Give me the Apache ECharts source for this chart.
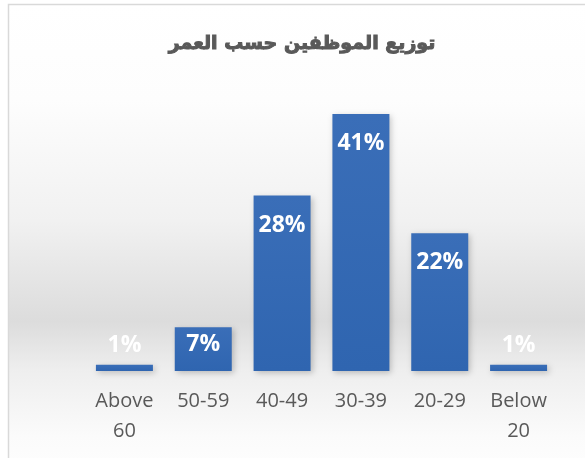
<!DOCTYPE html>
<html>
<head>
<meta charset="utf-8">
<script src="https://cdn.jsdelivr.net/npm/echarts@6/dist/echarts.min.js"></script>
<style>
  html, body { margin: 0; padding: 0; background: #fff; }
  #ageChart { width: 585px; height: 458px; }
</style>
</head>
<body>
<div id="ageChart"></div>
<script>
// 데이터
var chartTitle = "توزيع الموظفين حسب العمر";
var ageGroups = ["Above\n60", "50-59", "40-49", "30-39", "20-29", "Below\n20"];
var sharePct = [1, 7, 28, 41, 22, 1];

var ageChart = echarts.init(document.getElementById("ageChart"));

// 막대 높이에 따라 라벨 위치 바꿈 (작은 막대는 위로)
function labelFor(v) {
  if (v >= 10) return { position: "insideTop", distance: 18 };
  if (v >= 5) return { position: "insideTop", distance: 6 };
  return { position: "top", distance: 8 };
}

var barData = sharePct.map(function (v) {
  return { value: v, label: labelFor(v) };
});

var ageOption = {
  animation: false,
  graphic: [
    {
      type: "rect",
      silent: true,
      z: -10,
      shape: { x: 8.5, y: 4.5, width: 620, height: 480 },
      style: {
        stroke: "#d9d9d9",
        lineWidth: 1.5,
        fill: {
          type: "linear",
          x: 0, y: 0, x2: 0, y2: 1,
          global: false,
          colorStops: [
            { offset: 0, color: "#ffffff" },
            { offset: 0.2, color: "#fdfdfd" },
            { offset: 0.45, color: "#f1f1f1" },
            { offset: 0.66, color: "#dcdcdc" },
            { offset: 0.76, color: "#eeeeee" },
            { offset: 0.9, color: "#fbfbfb" },
            { offset: 1, color: "#ffffff" },
          ],
        },
      },
    },
  ],
  title: {
    text: chartTitle,
    left: 297,
    top: 30,
    textAlign: "center",
    textStyle: {
      fontFamily: "DejaVu Sans",
      fontSize: 19,
      fontWeight: "bold",
      color: "#595959",
      textBorderColor: "#595959",
      textBorderWidth: 1,
    },
  },
  grid: {
    left: 85,
    right: 27,
    top: 89,
    bottom: 87,
  },
  xAxis: {
    type: "category",
    data: ageGroups,
    axisLine: { show: false },
    axisTick: { show: false },
    axisLabel: {
      interval: 0,
      margin: 15,
      fontFamily: "Open Sans",
      fontSize: 20,
      lineHeight: 30,
      color: "#595959",
    },
  },
  yAxis: {
    type: "value",
    min: 0,
    max: 45,
    show: false,
    splitLine: { show: false },
  },
  series: [
    {
      type: "bar",
      data: barData,
      barWidth: 57,
      itemStyle: {
        color: {
          type: "linear",
          x: 0, y: 0, x2: 0, y2: 1,
          colorStops: [
            { offset: 0, color: "#3a6eb8" },
            { offset: 1, color: "#2f65b0" },
          ],
        },
        shadowBlur: 6,
        shadowColor: "rgba(0,0,0,0.22)",
        shadowOffsetX: 2,
        shadowOffsetY: 2,
      },
      label: {
        show: true,
        formatter: "{c}%",
        color: "#ffffff",
        fontFamily: "Open Sans",
        fontWeight: "bold",
        fontSize: 23,
      },
    },
  ],
};
ageChart.setOption(ageOption);

window.onresize = function () {
  ageChart.resize();
};
</script>
</body>
</html>
